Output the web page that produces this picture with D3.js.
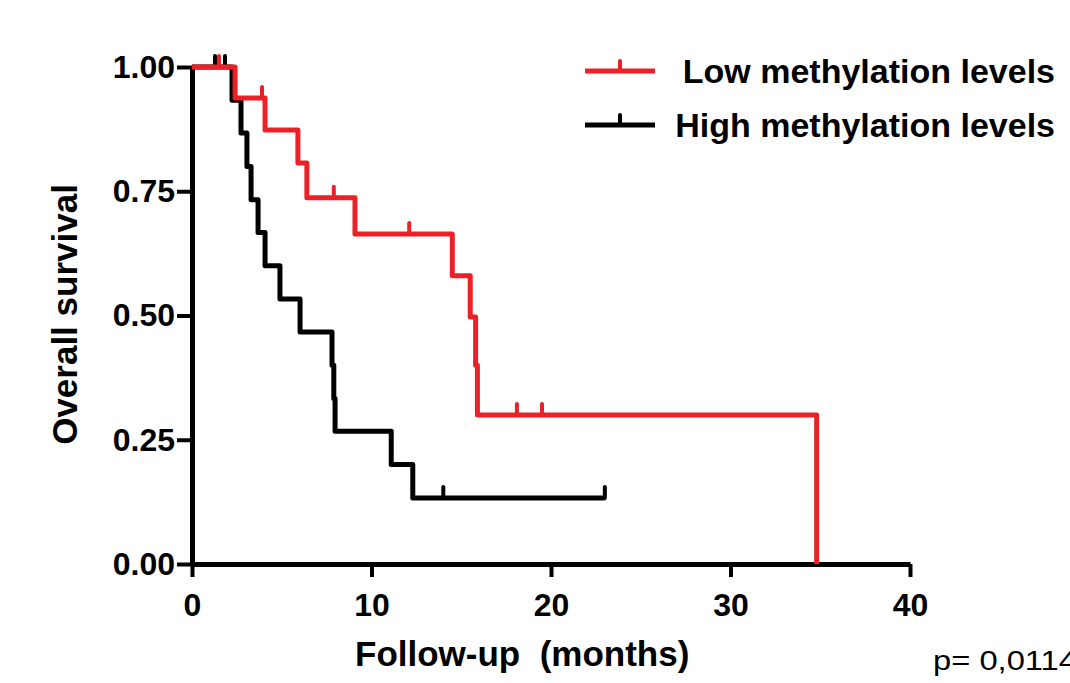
<!DOCTYPE html>
<html>
<head>
<meta charset="utf-8">
<script src="https://cdn.jsdelivr.net/npm/d3@7"></script>
<style>
  body { margin: 0; background: #fff; }
  svg { display: block; }
  text { font-family: "Liberation Sans", Arial, sans-serif; }
</style>
</head>
<body>
<div id="chart"></div>
<script>
// Kaplan-Meier steps (months, survival fraction)
var lowTimes = [0, 2.4, 4.07, 5.9, 6.4, 9.08, 14.5, 15.5, 15.8, 15.9, 34.8];
var lowSurv = [1, 0.9375, 0.873, 0.807, 0.737, 0.664, 0.58, 0.497, 0.40, 0.30, 0];
var lowCensored = [1.5, 3.9, 7.9, 12.1, 18.1, 19.5];

var highTimes = [0, 2.23, 2.73, 3.06, 3.29, 3.68, 4.07, 4.9, 6.02, 7.8, 7.9, 7.97, 11.1, 12.3];
var highSurv = [1, 0.933, 0.867, 0.8, 0.733, 0.667, 0.6, 0.533, 0.467, 0.4, 0.333, 0.267, 0.2, 0.133];
var highCensored = [1.28, 1.84, 14.0, 23.0];
var highEnd = 23.0;

var yTicks = [0, 0.25, 0.5, 0.75, 1];
var xTicks = [0, 10, 20, 30, 40];
var seriesNames = ['Low methylation levels', 'High methylation levels'];
var pValue = 'p= 0,0114';

var red = '#ec2027';
var W = 1070, H = 683;

var svg = d3.select('#chart').append('svg').attr('width', W).attr('height', H);

var x = d3.scaleLinear().domain([0, 40]).range([192, 910]);
var y = d3.scaleLinear().domain([0, 1]).range([564, 67]);

function survAt(times, surv, t) {
    var s = surv[0];
    for (var i = 0; i < times.length; i++) {
        if (times[i] <= t) s = surv[i];
    }
    return s;
}

function stepPoints(times, surv, end) {
    var pts = times.map(function (t, i) { return [t, surv[i]]; });
    if (end != null) pts.push([end, surv[surv.length - 1]]);
    return pts;
}

var line = d3.line()
    .x(function (d) { return x(d[0]); })
    .y(function (d) { return y(d[1]); })
    .curve(d3.curveStepAfter);

// axes
var yAxis = d3.axisLeft(y).tickValues(yTicks).tickFormat(d3.format('.2f'))
    .tickSize(15).tickSizeOuter(0).tickPadding(2);
var xAxis = d3.axisBottom(x).tickValues(xTicks).tickFormat(d3.format('d'))
    .tickSize(13).tickSizeOuter(0).tickPadding(16);

var gy = svg.append('g').attr('transform', 'translate(' + x(0) + ',0)').call(yAxis);
var gx = svg.append('g').attr('transform', 'translate(0,' + y(0) + ')').call(xAxis);

[gx, gy].forEach(function (g) {
    g.selectAll('path.domain').attr('stroke', '#000').attr('stroke-width', 5);
    g.selectAll('.tick line').attr('stroke', '#000').attr('stroke-width', 4);
    g.selectAll('.tick text')
        .attr('fill', '#000')
        .style('font-size', '32px')
        .style('font-weight', 'bold');
});

// curves
function drawCurve(times, surv, end, censored, color) {
    svg.append('path')
        .datum(stepPoints(times, surv, end))
        .attr('d', line)
        .attr('fill', 'none')
        .attr('stroke', color)
        .attr('stroke-width', 5)
        .attr('stroke-linejoin', 'round');
    svg.selectAll(null)
        .data(censored)
        .enter().append('line')
        .attr('x1', function (d) { return x(d); })
        .attr('x2', function (d) { return x(d); })
        .attr('y1', function (d) { return y(survAt(times, surv, d)); })
        .attr('y2', function (d) { return y(survAt(times, surv, d)) - 11; })
        .attr('stroke', color)
        .attr('stroke-width', 4)
        .attr('stroke-linecap', 'round');
}

drawCurve(highTimes, highSurv, highEnd, highCensored, '#000');
drawCurve(lowTimes, lowSurv, null, lowCensored, red);

// legend
var legend = svg.append('g');
[red, '#000'].forEach(function (c, i) {
    var ly = 71 + i * 54;
    legend.append('line').attr('x1', 585).attr('x2', 655).attr('y1', ly).attr('y2', ly)
        .attr('stroke', c).attr('stroke-width', 5);
    legend.append('line').attr('x1', 620).attr('x2', 620).attr('y1', ly).attr('y2', ly - 10)
        .attr('stroke', c).attr('stroke-width', 4).attr('stroke-linecap', 'round');
    legend.append('text')
        .attr('x', 1055).attr('y', ly + 12)
        .attr('text-anchor', 'end')
        .style('font-size', '34px').style('font-weight', 'bold')
        .text(seriesNames[i]);
});

// axis titles
svg.append('text')
    .attr('transform', 'translate(77,' + ((y(0) + y(1)) / 2 - 1) + ') rotate(-90)')
    .attr('text-anchor', 'middle')
    .style('font-size', '35px').style('font-weight', 'bold')
    .text('Overall survival');

svg.append('text')
    .attr('x', 355)
    .attr('y', 666)
    .style('font-size', '35px').style('font-weight', 'bold')
    .text('Follow-up\u00a0 (months)');

svg.append('text')
    .attr('x', 933).attr('y', 670)
    .attr('textLength', 144).attr('lengthAdjust', 'spacingAndGlyphs')
    .style('font-size', '28px')
    .text(pValue);
</script>
</body>
</html>
